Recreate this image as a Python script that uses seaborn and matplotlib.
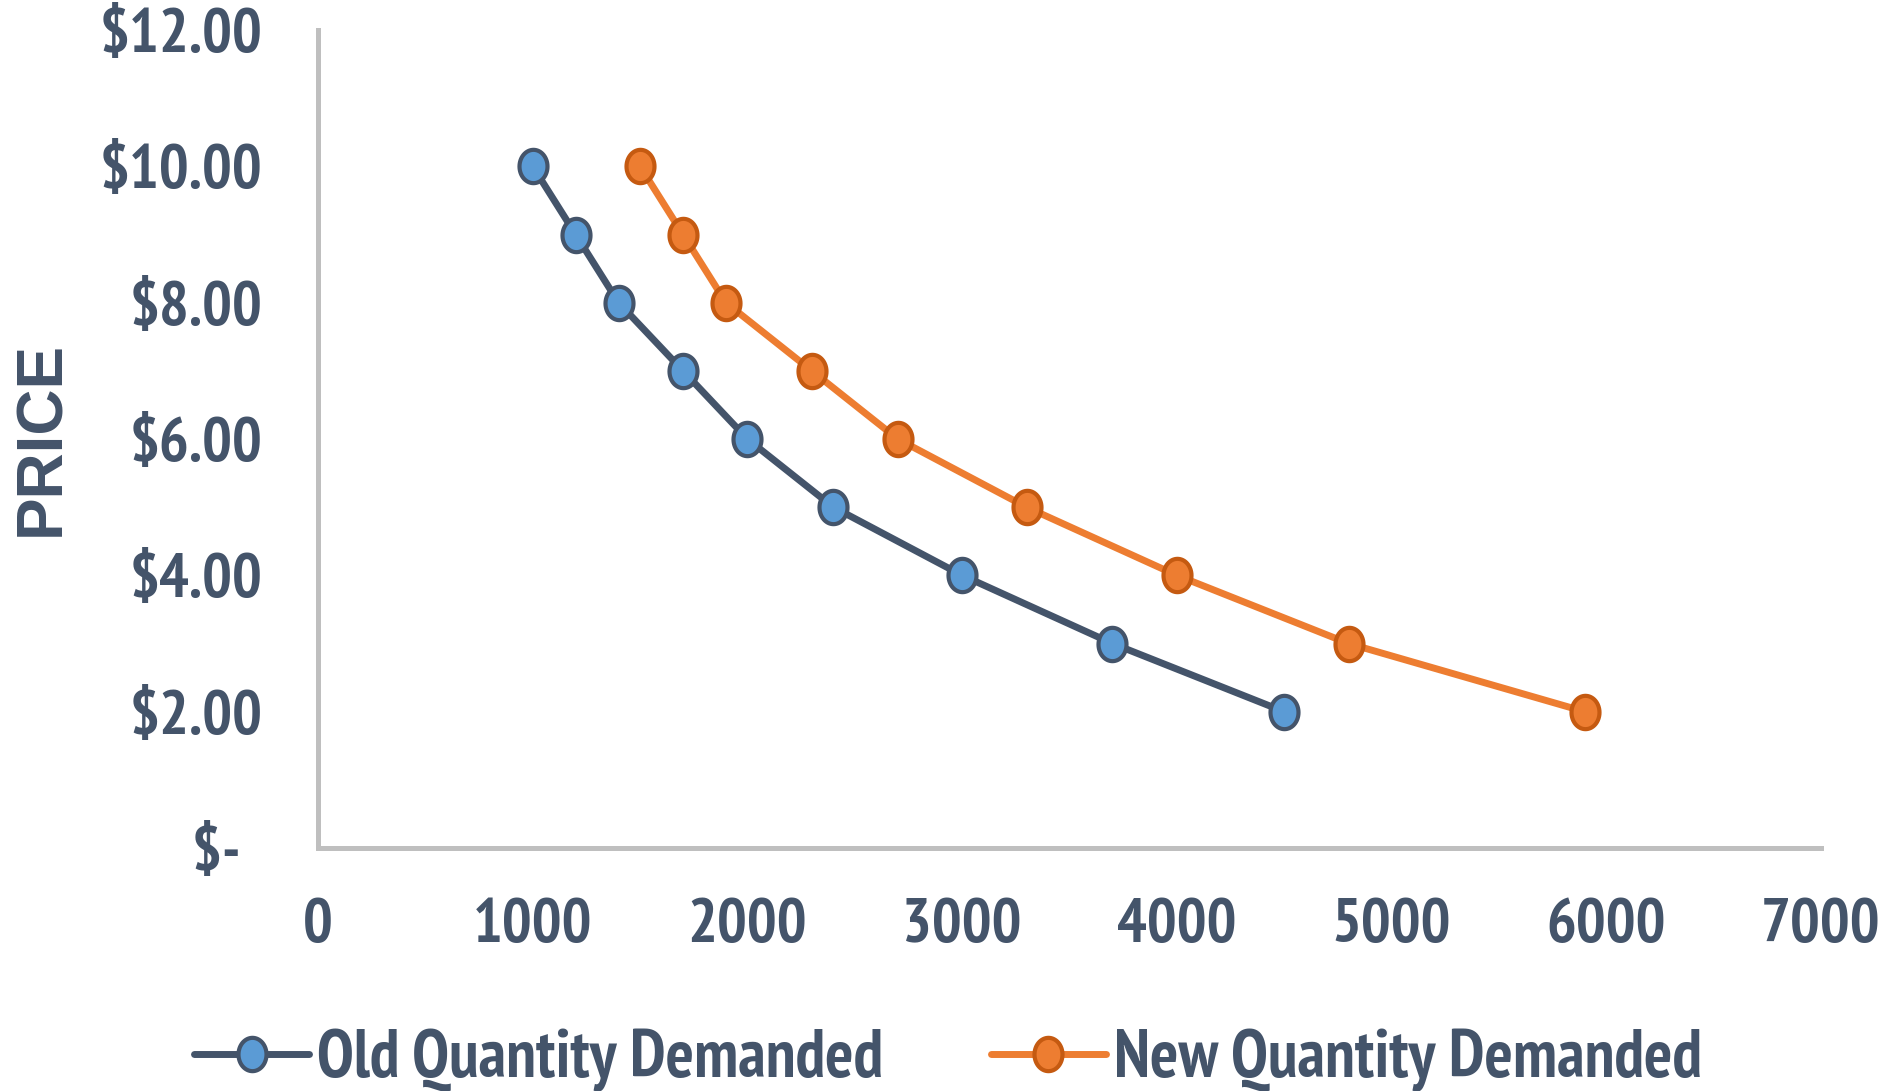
import numpy as np
import pandas as pd
import matplotlib
matplotlib.use("Agg")
import matplotlib.pyplot as plt
from matplotlib.path import Path
from matplotlib.lines import Line2D
import seaborn as sns

# Demand schedule: price points and quantity demanded before/after the shift
price = [10, 9, 8, 7, 6, 5, 4, 3, 2]
old_quantity = [1000, 1200, 1400, 1700, 2000, 2400, 3000, 3700, 4500]
new_quantity = [1500, 1700, 1900, 2300, 2700, 3300, 4000, 4800, 5900]

series_names = ["Old Quantity Demanded", "New Quantity Demanded"]
x_ticks = [0, 1000, 2000, 3000, 4000, 5000, 6000, 7000]
x_tick_labels = ["0", "1000", "2000", "3000", "4000", "5000", "6000", "7000"]
y_ticks = [0, 2, 4, 6, 8, 10, 12]
y_tick_labels = ["$-  ", "$2.00", "$4.00", "$6.00", "$8.00", "$10.00", "$12.00"]
y_label = "PRICE"

TEXT = "#44546A"
GRID = "#BFBFBF"
OLD_LINE, OLD_FILL = "#44546A", "#5B9BD5"
NEW_LINE, NEW_FILL, NEW_EDGE = "#ED7D31", "#ED7D31", "#C55A11"

sns.set_theme(style="white")
# narrow bold face for the tick labels and legend; first installed family wins
plt.rcParams["font.family"] = ["PT Sans Narrow", "IBM Plex Sans Condensed",
                               "Fira Sans Condensed", "Liberation Sans", "DejaVu Sans"]
plt.rcParams["font.weight"] = "bold"

# slightly tall oval marker
t = np.linspace(0, 2 * np.pi, 65)
oval = Path(np.column_stack([0.84 * np.cos(t), np.sin(t)]), closed=True)

df = pd.DataFrame({
    "quantity": old_quantity + new_quantity,
    "price": price + price,
    "series": [series_names[0]] * len(price) + [series_names[1]] * len(price),
})

fig = plt.figure(figsize=(18.85, 10.91), dpi=100)
ax = fig.add_axes([318 / 1885, 1 - 848 / 1091, (1821 - 318) / 1885, (848 - 30) / 1091])

styles = {
    series_names[0]: dict(color=OLD_LINE, markerfacecolor=OLD_FILL, markeredgecolor=OLD_LINE),
    series_names[1]: dict(color=NEW_LINE, markerfacecolor=NEW_FILL, markeredgecolor=NEW_EDGE),
}
common = dict(linewidth=5, marker=oval, markersize=24, markeredgewidth=3)

for name in series_names:
    sub = df[df["series"] == name]
    sns.lineplot(data=sub, x="quantity", y="price", ax=ax, sort=False,
                 estimator=None, legend=False, zorder=3, **styles[name], **common)

ax.set_xlim(0, 7000)
ax.set_ylim(0, 12)
ax.set_xticks(x_ticks)
ax.set_xticklabels(x_tick_labels)
ax.set_yticks(y_ticks)
ax.set_yticklabels(y_tick_labels)
ax.tick_params(axis="both", length=0, labelsize=45, labelcolor=TEXT)
ax.tick_params(axis="x", pad=36)
ax.tick_params(axis="y", pad=40)
for lab in ax.get_xticklabels() + ax.get_yticklabels():
    lab.set_fontweight("bold")

ax.set_xlabel("")
ax.set_ylabel("")
for side in ("top", "right"):
    ax.spines[side].set_visible(False)
for side in ("left", "bottom"):
    ax.spines[side].set_color(GRID)
    ax.spines[side].set_linewidth(3.6)
ax.grid(False)

fig.text(42 / 1885, 1 - 438 / 1091, y_label, rotation=90, ha="center", va="center",
         fontsize=46, fontweight="bold", color=TEXT,
         family=["Liberation Sans", "DejaVu Sans"])

handles = [Line2D([], [], **styles[n], **common) for n in series_names]
leg = fig.legend(handles, series_names, loc="center", ncol=2, frameon=False,
                 bbox_to_anchor=(948 / 1885, 1 - 1060 / 1091), fontsize=48,
                 handlelength=1.72, handletextpad=0.12, columnspacing=1.62,
                 borderaxespad=0, borderpad=0)
for txt in leg.get_texts():
    txt.set_color(TEXT)
    txt.set_fontweight("bold")

fig.savefig("out.png", dpi=100, facecolor="white")
